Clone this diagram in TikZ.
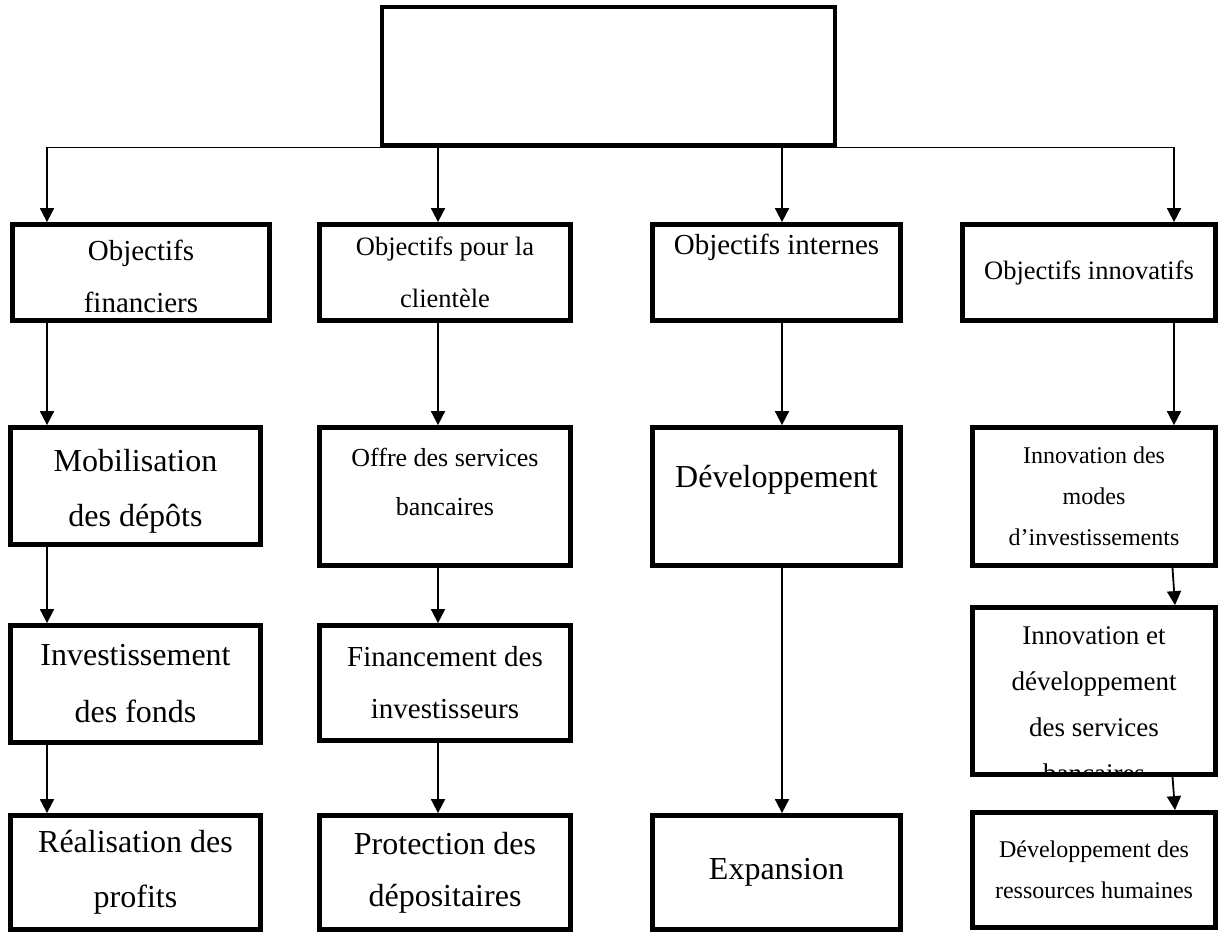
\documentclass[tikz,border=0pt]{standalone}
\usepackage{fontspec}
\setmainfont{Liberation Serif}
\usetikzlibrary{arrows.meta}
% font size / baseline skip in pt
\newcommand{\tsz}[2]{\fontsize{#1pt}{#2pt}\selectfont}
\begin{document}
\begin{tikzpicture}[x=1pt,y=-1pt,
  box/.style={draw, line width=4.8pt, rectangle, inner sep=0pt, fill=white},
  lbl/.style={inner sep=0pt, align=center},
  link/.style={line width=1.8pt, -{Triangle[length=14pt,width=14pt]}},
  wire/.style={line width=1.8pt}]
\useasboundingbox (0,0) rectangle (1222,935);

% head box
\node[box, minimum width=453pt, minimum height=138pt] (top) at (608.5,76) {};

% column 1: financial objectives
\node[box, minimum width=257pt, minimum height=96pt]  (f1) at (141,272.5) {};
\node[box, minimum width=250pt, minimum height=117pt] (f2) at (135.5,486) {};
\node[box, minimum width=250pt, minimum height=117pt] (f3) at (135.5,684) {};
\node[box, minimum width=250pt, minimum height=114pt] (f4) at (135.5,872.5) {};
\node[lbl, font=\tsz{29}{52}] (f1t) at ([yshift=-4pt]f1.center) {Objectifs\\financiers};
\node[lbl, font=\tsz{32}{55}] (f2t) at ([yshift=-5pt]f2.center) {Mobilisation\\des dépôts};
\node[lbl, font=\tsz{32}{57}] (f3t) at (f3.center) {Investissement\\des fonds};
\node[lbl, font=\tsz{32}{55}] (f4t) at (f4.center) {Réalisation des\\profits};

% column 2: customer objectives
\node[box, minimum width=251pt, minimum height=96pt]  (c1) at (445,272.5) {};
\node[box, minimum width=251pt, minimum height=138pt] (c2) at (445,496.5) {};
\node[box, minimum width=251pt, minimum height=115pt] (c3) at (445,683) {};
\node[box, minimum width=251pt, minimum height=114pt] (c4) at (445,872.5) {};
\node[lbl, font=\tsz{26.5}{52}] (c1t) at (c1.center) {Objectifs pour la\\clientèle};
\node[lbl, font=\tsz{26}{49}] (c2t) at ([yshift=15pt]c2.center) {Offre des services\\bancaires};
\node[lbl, font=\tsz{29}{52}] (c3t) at (c3.center) {Financement des\\investisseurs};
\node[lbl, font=\tsz{32}{52}] (c4t) at (c4.center) {Protection des\\dépositaires};

% column 3: internal objectives
\node[box, minimum width=248pt, minimum height=96pt]  (i1) at (776.5,272.5) {};
\node[box, minimum width=248pt, minimum height=138pt] (i2) at (776.5,496.5) {};
\node[box, minimum width=248pt, minimum height=114pt] (i4) at (776.5,872.5) {};
\node[lbl, font=\tsz{29}{52}] (i1t) at ([yshift=25pt]i1.center) {Objectifs internes};
\node[lbl, font=\tsz{32}{55}] (i2t) at ([yshift=17pt]i2.center) {Développement};
\node[lbl, font=\tsz{32}{55}] (i4t) at (i4.center) {Expansion};

% column 4: innovation objectives
\node[box, minimum width=253pt, minimum height=96pt]  (n1) at (1089,272.5) {};
\node[box, minimum width=243pt, minimum height=138pt] (n2) at (1094,496.5) {};
\node[box, minimum width=243pt, minimum height=167pt] (n3) at (1094,691) {};
\node[box, minimum width=243pt, minimum height=115pt] (n4) at (1094,870) {};
\node[lbl, font=\tsz{26.5}{50}] (n1t) at (n1.center) {Objectifs innovatifs};
\node[lbl, font=\tsz{24}{41}] (n2t) at (n2.center) {Innovation des\\modes\\d’investissements};
\begin{scope}
  % the last line runs past the lower edge of its box and is cut there
  \clip (972.5,607.5) rectangle (1215.5,774.5);
  \node[lbl, anchor=north, font=\tsz{27}{46}] (n3t) at (1094,626)
    {Innovation et\\développement\\des services\\bancaires};
\end{scope}
\node[lbl, font=\tsz{24}{41}] (n4t) at (n4.center) {Développement des\\ressources humaines};

% connector columns
\coordinate (x1) at (47,0);
\coordinate (x2) at (438,0);
\coordinate (x3) at (782,0);
\coordinate (x4) at (1174,0);
\coordinate (x4a) at (1172.5,0);
\coordinate (x4b) at (1175,0);

% distribution bus under the head box
\draw[wire] (top.south -| x1) -- (top.south -| x4);
\draw[link] (top.south -| x1) -- (f1.north -| x1);
\draw[link] (top.south -| x2) -- (c1.north -| x2);
\draw[link] (top.south -| x3) -- (i1.north -| x3);
\draw[link] (top.south -| x4) -- (n1.north -| x4);

% chains
\draw[link] (f1.south -| x1) -- (f2.north -| x1);
\draw[link] (f2.south -| x1) -- (f3.north -| x1);
\draw[link] (f3.south -| x1) -- (f4.north -| x1);

\draw[link] (c1.south -| x2) -- (c2.north -| x2);
\draw[link] (c2.south -| x2) -- (c3.north -| x2);
\draw[link] (c3.south -| x2) -- (c4.north -| x2);

\draw[link] (i1.south -| x3) -- (i2.north -| x3);
\draw[link] (i2.south -| x3) -- (i4.north -| x3);

\draw[link] (n1.south -| x4) -- (n2.north -| x4);
\draw[link] (n2.south -| x4a) -- (n3.north -| x4b);
\draw[link] (n3.south -| x4a) -- (n4.north -| x4b);
\end{tikzpicture}
\end{document}
